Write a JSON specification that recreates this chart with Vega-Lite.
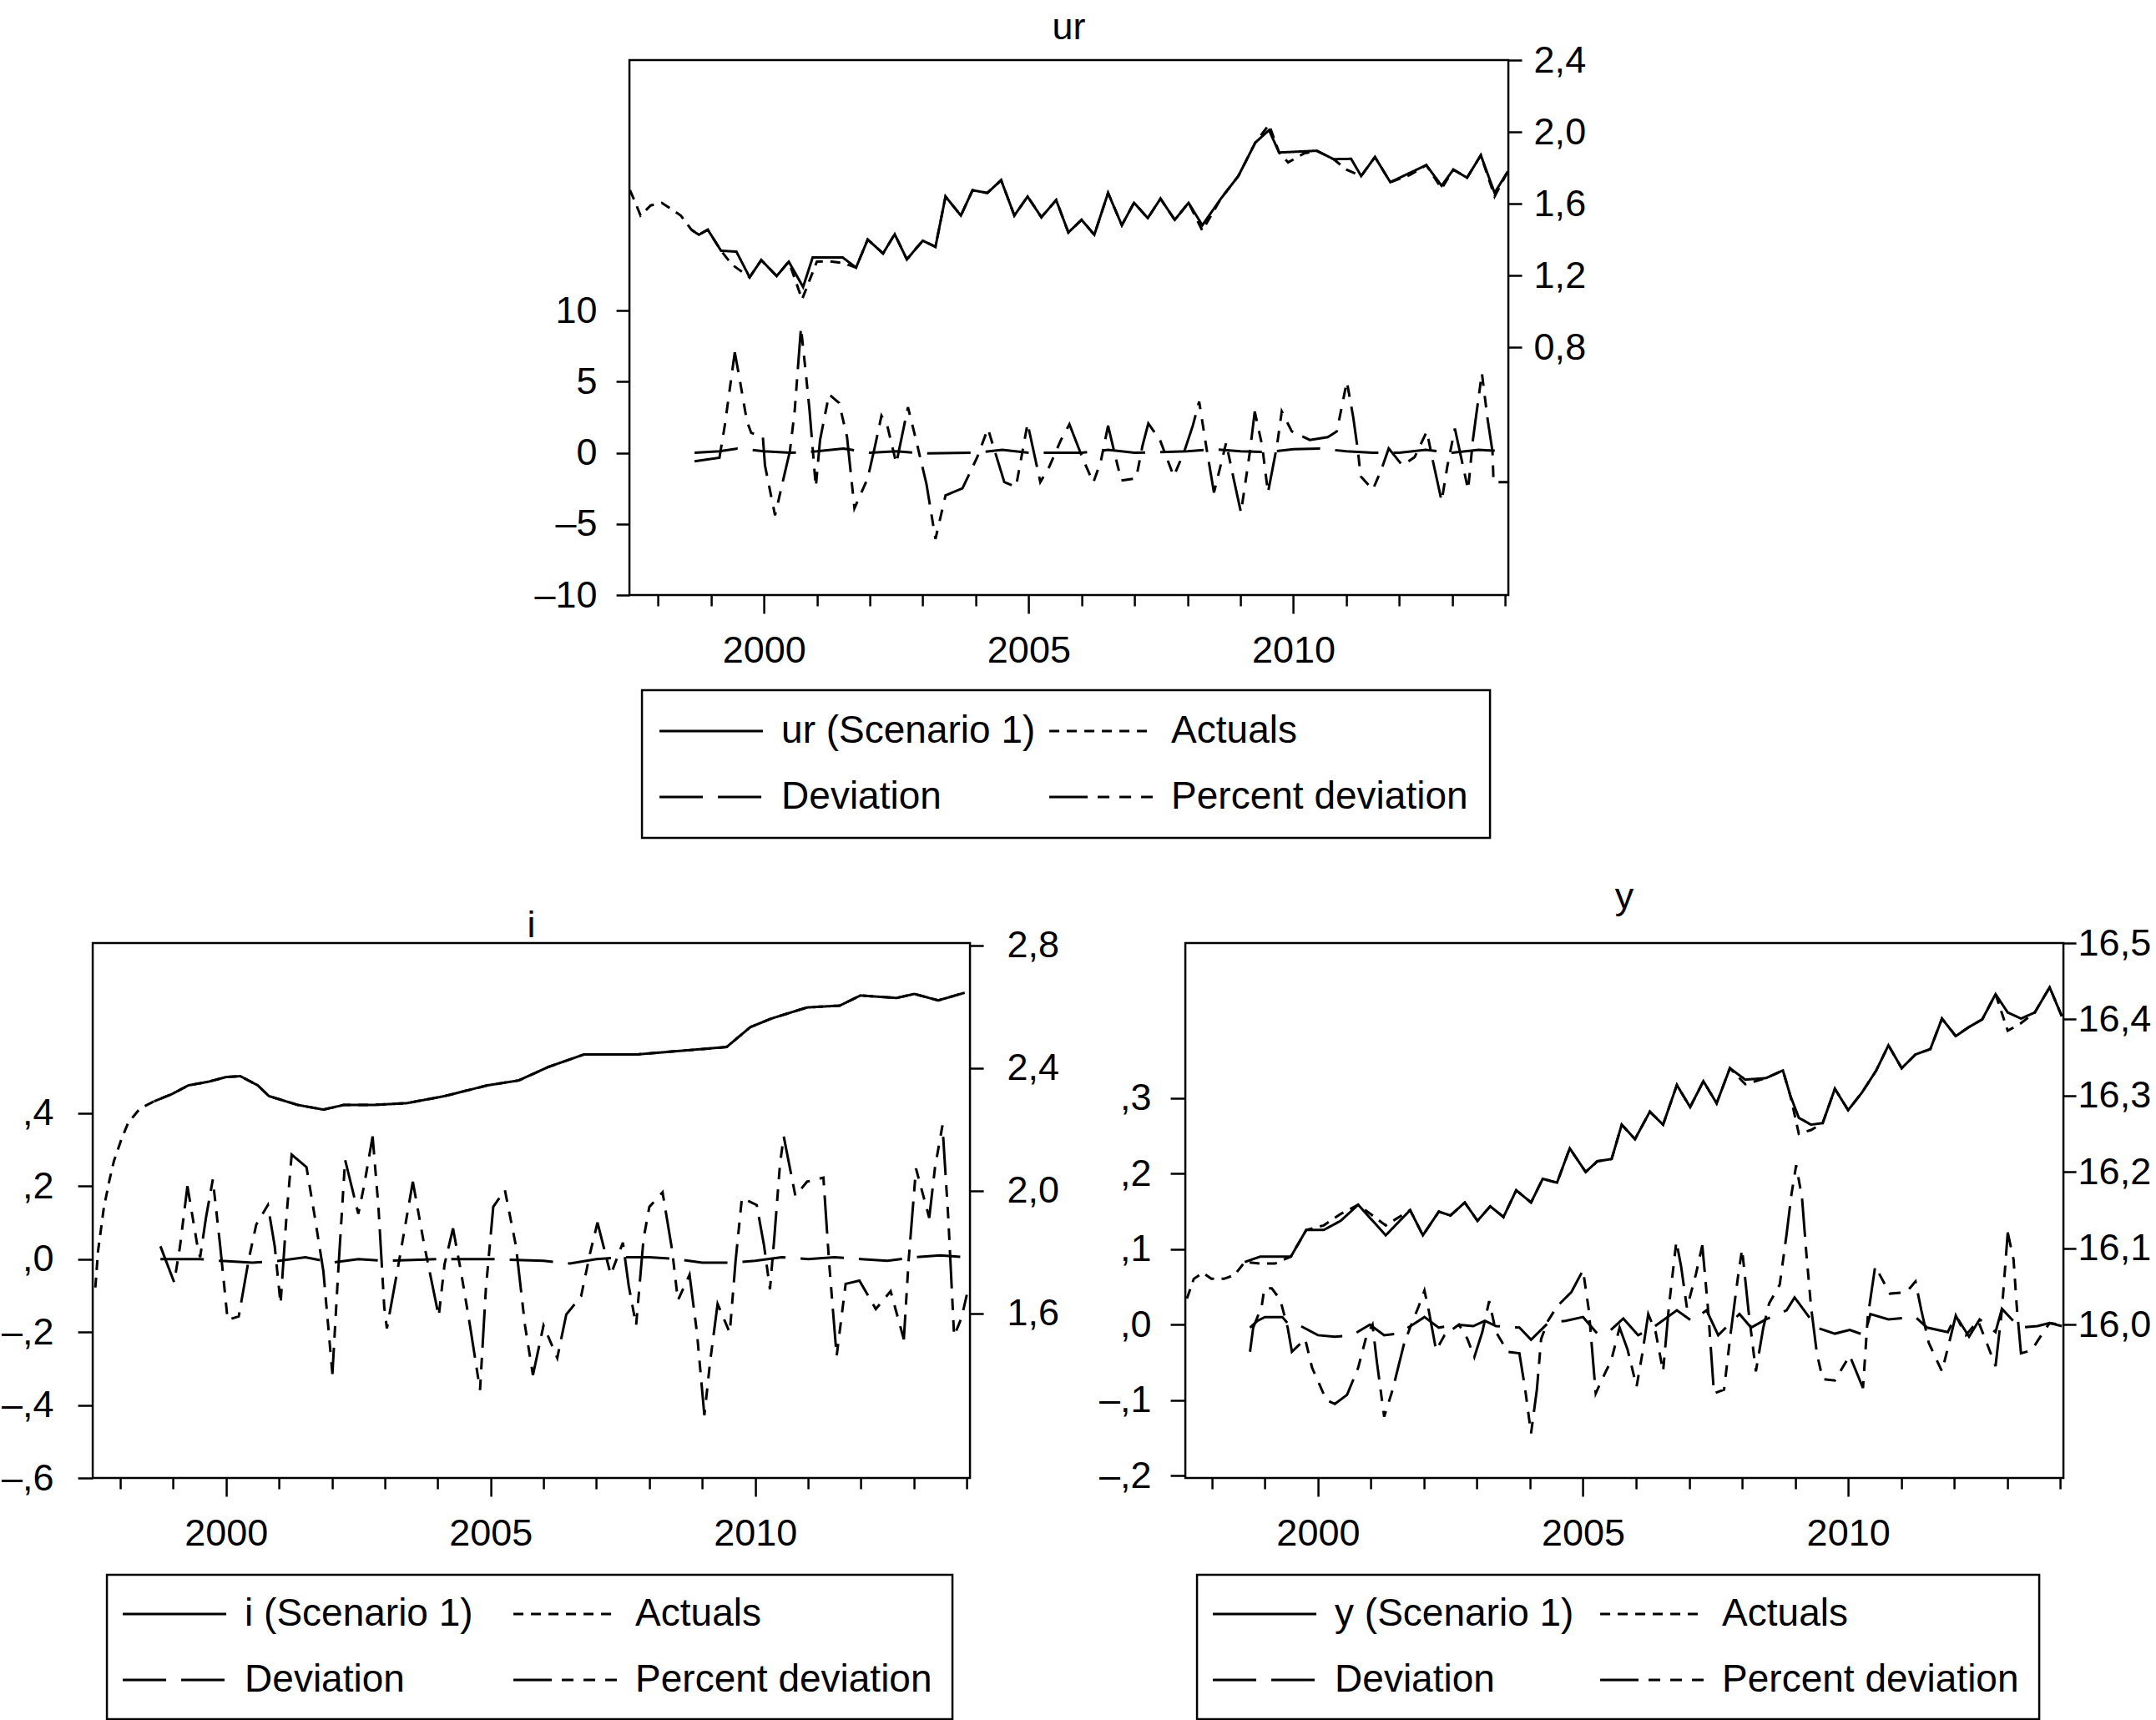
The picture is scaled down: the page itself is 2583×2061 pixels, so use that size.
{
  "$schema": "https://vega.github.io/schema/vega-lite/v6.json",
  "background": "white",
  "padding": {"left": 0, "top": 9, "right": 0, "bottom": 0},
  "config": {
    "font": "Liberation Sans",
    "view": {"stroke": "black", "strokeWidth": 2.5},
    "axis": {"domain": false, "grid": false, "tickColor": "black", "tickWidth": 2.5, "labelFontSize": 45, "labelColor": "black", "labelFont": "Liberation Sans", "labelOverlap": false, "labelFlush": false},
    "title": {"fontSize": 45, "fontWeight": "normal", "font": "Liberation Sans", "color": "black", "anchor": "middle", "frame": "group"},
    "legend": {"strokeWidth": 2.5},
    "line": {"color": "black", "strokeWidth": 3}
  },
  "datasets": {
    "ur": [
      {"t":1997.47,"s":"A","v":1.675},{"t":1997.58,"s":"A","v":1.6},{"t":1997.67,"s":"A","v":1.534},{"t":1997.86,"s":"A","v":1.59},{"t":1998.07,"s":"A","v":1.605},{"t":1998.25,"s":"A","v":1.57},{"t":1998.43,"s":"A","v":1.534},{"t":1998.63,"s":"A","v":1.455},{"t":1998.77,"s":"A","v":1.427},{"t":1998.94,"s":"A","v":1.455},{"t":1999.19,"s":"A","v":1.338},{"t":1999.4,"s":"A","v":1.26},{"t":1999.73,"s":"A","v":1.19},{"t":1999.95,"s":"A","v":1.286},{"t":2000.24,"s":"A","v":1.197},{"t":2000.47,"s":"A","v":1.277},{"t":2000.72,"s":"A","v":1.067},{"t":2001.0,"s":"A","v":1.277},{"t":2001.2,"s":"A","v":1.28},{"t":2001.49,"s":"A","v":1.27},{"t":2001.74,"s":"A","v":1.244},{"t":2001.96,"s":"A","v":1.4},{"t":2002.25,"s":"A","v":1.323},{"t":2002.47,"s":"A","v":1.43},{"t":2002.7,"s":"A","v":1.29},{"t":2003.0,"s":"A","v":1.394},{"t":2003.24,"s":"A","v":1.36},{"t":2003.43,"s":"A","v":1.64},{"t":2003.72,"s":"A","v":1.534},{"t":2003.94,"s":"A","v":1.675},{"t":2004.22,"s":"A","v":1.66},{"t":2004.48,"s":"A","v":1.731},{"t":2004.73,"s":"A","v":1.534},{"t":2004.98,"s":"A","v":1.64},{"t":2005.24,"s":"A","v":1.525},{"t":2005.52,"s":"A","v":1.62},{"t":2005.75,"s":"A","v":1.44},{"t":2006.0,"s":"A","v":1.51},{"t":2006.24,"s":"A","v":1.427},{"t":2006.5,"s":"A","v":1.66},{"t":2006.76,"s":"A","v":1.48},{"t":2006.99,"s":"A","v":1.605},{"t":2007.25,"s":"A","v":1.52},{"t":2007.49,"s":"A","v":1.628},{"t":2007.76,"s":"A","v":1.51},{"t":2008.02,"s":"A","v":1.605},{"t":2008.28,"s":"A","v":1.45},{"t":2008.63,"s":"A","v":1.628},{"t":2008.96,"s":"A","v":1.754},{"t":2009.28,"s":"A","v":1.94},{"t":2009.54,"s":"A","v":2.04},{"t":2009.73,"s":"A","v":1.885},{"t":2009.9,"s":"A","v":1.83},{"t":2010.2,"s":"A","v":1.88},{"t":2010.44,"s":"A","v":1.895},{"t":2010.76,"s":"A","v":1.848},{"t":2011.0,"s":"A","v":1.79},{"t":2011.28,"s":"A","v":1.754},{"t":2011.54,"s":"A","v":1.86},{"t":2011.83,"s":"A","v":1.72},{"t":2012.2,"s":"A","v":1.76},{"t":2012.51,"s":"A","v":1.815},{"t":2012.8,"s":"A","v":1.684},{"t":2013.02,"s":"A","v":1.79},{"t":2013.28,"s":"A","v":1.745},{"t":2013.54,"s":"A","v":1.87},{"t":2013.8,"s":"A","v":1.64},{"t":2014.05,"s":"A","v":1.78},
      {"t":1998.63,"s":"S","v":1.455},{"t":1998.77,"s":"S","v":1.427},{"t":1998.94,"s":"S","v":1.455},{"t":1999.19,"s":"S","v":1.338},{"t":1999.48,"s":"S","v":1.333},{"t":1999.73,"s":"S","v":1.19},{"t":1999.95,"s":"S","v":1.286},{"t":2000.24,"s":"S","v":1.197},{"t":2000.47,"s":"S","v":1.277},{"t":2000.74,"s":"S","v":1.136},{"t":2000.92,"s":"S","v":1.3},{"t":2001.49,"s":"S","v":1.3},{"t":2001.74,"s":"S","v":1.244},{"t":2001.96,"s":"S","v":1.4},{"t":2002.25,"s":"S","v":1.323},{"t":2002.47,"s":"S","v":1.43},{"t":2002.7,"s":"S","v":1.29},{"t":2003.0,"s":"S","v":1.394},{"t":2003.24,"s":"S","v":1.36},{"t":2003.43,"s":"S","v":1.64},{"t":2003.72,"s":"S","v":1.534},{"t":2003.94,"s":"S","v":1.675},{"t":2004.22,"s":"S","v":1.66},{"t":2004.48,"s":"S","v":1.731},{"t":2004.73,"s":"S","v":1.534},{"t":2004.98,"s":"S","v":1.64},{"t":2005.24,"s":"S","v":1.525},{"t":2005.52,"s":"S","v":1.62},{"t":2005.75,"s":"S","v":1.44},{"t":2006.0,"s":"S","v":1.51},{"t":2006.24,"s":"S","v":1.427},{"t":2006.5,"s":"S","v":1.66},{"t":2006.76,"s":"S","v":1.48},{"t":2006.99,"s":"S","v":1.605},{"t":2007.25,"s":"S","v":1.52},{"t":2007.49,"s":"S","v":1.628},{"t":2007.76,"s":"S","v":1.51},{"t":2008.02,"s":"S","v":1.605},{"t":2008.28,"s":"S","v":1.48},{"t":2008.63,"s":"S","v":1.628},{"t":2008.96,"s":"S","v":1.754},{"t":2009.28,"s":"S","v":1.94},{"t":2009.54,"s":"S","v":2.01},{"t":2009.73,"s":"S","v":1.885},{"t":2010.44,"s":"S","v":1.895},{"t":2010.76,"s":"S","v":1.848},{"t":2011.09,"s":"S","v":1.85},{"t":2011.28,"s":"S","v":1.754},{"t":2011.54,"s":"S","v":1.86},{"t":2011.83,"s":"S","v":1.72},{"t":2012.51,"s":"S","v":1.815},{"t":2012.8,"s":"S","v":1.7},{"t":2013.02,"s":"S","v":1.79},{"t":2013.28,"s":"S","v":1.745},{"t":2013.54,"s":"S","v":1.87},{"t":2013.8,"s":"S","v":1.66},{"t":2014.05,"s":"S","v":1.78},
      {"t":1998.69,"s":"D","v":0},{"t":1999.16,"s":"D","v":0.1},{"t":1999.5,"s":"D","v":0.3},{"t":2000.0,"s":"D","v":0.1},{"t":2000.5,"s":"D","v":0},{"t":2001.0,"s":"D","v":0.1},{"t":2001.5,"s":"D","v":0.3},{"t":2002.0,"s":"D","v":0},{"t":2002.5,"s":"D","v":0.1},{"t":2003.0,"s":"D","v":-0.05},{"t":2004.0,"s":"D","v":0},{"t":2004.5,"s":"D","v":0.2},{"t":2005.0,"s":"D","v":0},{"t":2006.0,"s":"D","v":0},{"t":2006.5,"s":"D","v":0.2},{"t":2007.0,"s":"D","v":0},{"t":2008.0,"s":"D","v":0.1},{"t":2008.5,"s":"D","v":0.25},{"t":2009.0,"s":"D","v":0.1},{"t":2009.5,"s":"D","v":0.05},{"t":2010.0,"s":"D","v":0.25},{"t":2010.5,"s":"D","v":0.3},{"t":2011.0,"s":"D","v":0.1},{"t":2011.5,"s":"D","v":0},{"t":2012.0,"s":"D","v":0},{"t":2012.5,"s":"D","v":0.2},{"t":2013.0,"s":"D","v":0},{"t":2013.5,"s":"D","v":0.2},{"t":2014.05,"s":"D","v":0.1},
      {"t":1998.69,"s":"P","v":-0.6},{"t":1999.16,"s":"P","v":-0.35},{"t":1999.26,"s":"P","v":1.9},{"t":1999.45,"s":"P","v":7.06},{"t":1999.54,"s":"P","v":5.2},{"t":1999.68,"s":"P","v":2.2},{"t":1999.76,"s":"P","v":1.4},{"t":1999.98,"s":"P","v":1.1},{"t":2000.02,"s":"P","v":-0.9},{"t":2000.21,"s":"P","v":-4.4},{"t":2000.38,"s":"P","v":-1.65},{"t":2000.49,"s":"P","v":0.1},{"t":2000.58,"s":"P","v":2.9},{"t":2000.7,"s":"P","v":8.8},{"t":2000.78,"s":"P","v":6.0},{"t":2000.86,"s":"P","v":3.05},{"t":2000.98,"s":"P","v":-2.4},{"t":2001.06,"s":"P","v":0.9},{"t":2001.23,"s":"P","v":4.1},{"t":2001.42,"s":"P","v":3.5},{"t":2001.57,"s":"P","v":1.1},{"t":2001.71,"s":"P","v":-3.9},{"t":2001.96,"s":"P","v":-1.8},{"t":2002.1,"s":"P","v":0.5},{"t":2002.22,"s":"P","v":2.6},{"t":2002.33,"s":"P","v":1.9},{"t":2002.5,"s":"P","v":-0.75},{"t":2002.72,"s":"P","v":3.2},{"t":2002.86,"s":"P","v":1.1},{"t":2003.07,"s":"P","v":-2.2},{"t":2003.24,"s":"P","v":-6.06},{"t":2003.43,"s":"P","v":-3.0},{"t":2003.75,"s":"P","v":-2.5},{"t":2004.03,"s":"P","v":-0.3},{"t":2004.23,"s":"P","v":1.7},{"t":2004.37,"s":"P","v":0},{"t":2004.54,"s":"P","v":-2.06},{"t":2004.76,"s":"P","v":-2.4},{"t":2004.98,"s":"P","v":2.06},{"t":2005.22,"s":"P","v":-2.06},{"t":2005.38,"s":"P","v":-1.06},{"t":2005.61,"s":"P","v":0.9},{"t":2005.77,"s":"P","v":2.0},{"t":2006.01,"s":"P","v":-0.3},{"t":2006.22,"s":"P","v":-2.1},{"t":2006.36,"s":"P","v":-0.65},{"t":2006.5,"s":"P","v":1.9},{"t":2006.64,"s":"P","v":-0.3},{"t":2006.75,"s":"P","v":-1.95},{"t":2007.03,"s":"P","v":-1.8},{"t":2007.15,"s":"P","v":0.5},{"t":2007.26,"s":"P","v":2.06},{"t":2007.48,"s":"P","v":0.9},{"t":2007.74,"s":"P","v":-1.65},{"t":2007.94,"s":"P","v":0.1},{"t":2008.1,"s":"P","v":1.9},{"t":2008.22,"s":"P","v":3.6},{"t":2008.36,"s":"P","v":0.3},{"t":2008.5,"s":"P","v":-2.8},{"t":2008.73,"s":"P","v":0.7},{"t":2008.87,"s":"P","v":-1.8},{"t":2009.01,"s":"P","v":-4.2},{"t":2009.18,"s":"P","v":0.1},{"t":2009.27,"s":"P","v":2.9},{"t":2009.41,"s":"P","v":0.5},{"t":2009.52,"s":"P","v":-2.8},{"t":2009.69,"s":"P","v":0.5},{"t":2009.78,"s":"P","v":2.9},{"t":2009.97,"s":"P","v":1.5},{"t":2010.31,"s":"P","v":0.9},{"t":2010.65,"s":"P","v":1.1},{"t":2010.82,"s":"P","v":1.5},{"t":2011.01,"s":"P","v":5.0},{"t":2011.13,"s":"P","v":2.5},{"t":2011.22,"s":"P","v":0.1},{"t":2011.27,"s":"P","v":-1.65},{"t":2011.5,"s":"P","v":-2.6},{"t":2011.66,"s":"P","v":-1.2},{"t":2011.8,"s":"P","v":0.3},{"t":2012.06,"s":"P","v":-0.9},{"t":2012.29,"s":"P","v":-0.3},{"t":2012.52,"s":"P","v":1.5},{"t":2012.63,"s":"P","v":-0.5},{"t":2012.8,"s":"P","v":-3.4},{"t":2012.91,"s":"P","v":-0.9},{"t":2013.05,"s":"P","v":1.7},{"t":2013.3,"s":"P","v":-2.6},{"t":2013.39,"s":"P","v":0.9},{"t":2013.56,"s":"P","v":5.6},{"t":2013.67,"s":"P","v":2.3},{"t":2013.76,"s":"P","v":0.1},{"t":2013.78,"s":"P","v":-2.06},{"t":2014.06,"s":"P","v":-2.06}
    ],
    "i": [
      {"t":1997.53,"s":"A","v":1.685},{"t":1997.58,"s":"A","v":1.803},{"t":1997.69,"s":"A","v":1.945},{"t":1997.8,"s":"A","v":2.038},{"t":1997.88,"s":"A","v":2.097},{"t":1998.02,"s":"A","v":2.167},{"t":1998.15,"s":"A","v":2.222},{"t":1998.37,"s":"A","v":2.268},{"t":1998.64,"s":"A","v":2.292},{"t":1998.97,"s":"A","v":2.315},{"t":1999.29,"s":"A","v":2.344},{"t":1999.67,"s":"A","v":2.356},{"t":2000.0,"s":"A","v":2.371},{"t":2000.27,"s":"A","v":2.374},{"t":2000.6,"s":"A","v":2.344},{"t":2000.81,"s":"A","v":2.309},{"t":2001.36,"s":"A","v":2.28},{"t":2001.84,"s":"A","v":2.265},{"t":2002.22,"s":"A","v":2.28},{"t":2002.77,"s":"A","v":2.28},{"t":2003.42,"s":"A","v":2.286},{"t":2004.13,"s":"A","v":2.309},{"t":2004.94,"s":"A","v":2.344},{"t":2005.53,"s":"A","v":2.36},{"t":2006.09,"s":"A","v":2.404},{"t":2006.77,"s":"A","v":2.445},{"t":2007.78,"s":"A","v":2.445},{"t":2008.62,"s":"A","v":2.457},{"t":2009.46,"s":"A","v":2.469},{"t":2009.91,"s":"A","v":2.534},{"t":2010.31,"s":"A","v":2.562},{"t":2010.98,"s":"A","v":2.598},{"t":2011.6,"s":"A","v":2.604},{"t":2011.99,"s":"A","v":2.637},{"t":2012.67,"s":"A","v":2.629},{"t":2013.01,"s":"A","v":2.642},{"t":2013.46,"s":"A","v":2.621},{"t":2013.96,"s":"A","v":2.646},
      {"t":1998.64,"s":"S","v":2.292},{"t":1998.97,"s":"S","v":2.315},{"t":1999.29,"s":"S","v":2.344},{"t":1999.67,"s":"S","v":2.356},{"t":2000.0,"s":"S","v":2.371},{"t":2000.27,"s":"S","v":2.374},{"t":2000.6,"s":"S","v":2.344},{"t":2000.81,"s":"S","v":2.309},{"t":2001.36,"s":"S","v":2.28},{"t":2001.84,"s":"S","v":2.265},{"t":2002.22,"s":"S","v":2.28},{"t":2002.77,"s":"S","v":2.28},{"t":2003.42,"s":"S","v":2.286},{"t":2004.13,"s":"S","v":2.309},{"t":2004.94,"s":"S","v":2.344},{"t":2005.53,"s":"S","v":2.36},{"t":2006.09,"s":"S","v":2.404},{"t":2006.77,"s":"S","v":2.445},{"t":2007.78,"s":"S","v":2.445},{"t":2008.62,"s":"S","v":2.457},{"t":2009.46,"s":"S","v":2.469},{"t":2009.91,"s":"S","v":2.534},{"t":2010.31,"s":"S","v":2.562},{"t":2010.98,"s":"S","v":2.598},{"t":2011.6,"s":"S","v":2.604},{"t":2011.99,"s":"S","v":2.637},{"t":2012.67,"s":"S","v":2.629},{"t":2013.01,"s":"S","v":2.642},{"t":2013.46,"s":"S","v":2.621},{"t":2013.96,"s":"S","v":2.646},
      {"t":1998.76,"s":"D","v":0},{"t":1999.5,"s":"D","v":0},{"t":1999.9,"s":"D","v":-0.005},{"t":2000.5,"s":"D","v":-0.01},{"t":2001.0,"s":"D","v":-0.005},{"t":2001.5,"s":"D","v":0.005},{"t":2002.0,"s":"D","v":-0.01},{"t":2002.5,"s":"D","v":0},{"t":2003.0,"s":"D","v":-0.005},{"t":2004.0,"s":"D","v":0},{"t":2005.0,"s":"D","v":0},{"t":2006.0,"s":"D","v":-0.005},{"t":2006.5,"s":"D","v":-0.012},{"t":2007.0,"s":"D","v":0},{"t":2007.5,"s":"D","v":0.005},{"t":2008.0,"s":"D","v":0.005},{"t":2008.5,"s":"D","v":0},{"t":2009.0,"s":"D","v":-0.01},{"t":2009.5,"s":"D","v":-0.01},{"t":2010.0,"s":"D","v":-0.005},{"t":2010.5,"s":"D","v":0.005},{"t":2011.0,"s":"D","v":0},{"t":2011.5,"s":"D","v":0.005},{"t":2012.0,"s":"D","v":0},{"t":2012.5,"s":"D","v":-0.005},{"t":2013.0,"s":"D","v":0.005},{"t":2013.5,"s":"D","v":0.01},{"t":2014.0,"s":"D","v":0.005},
      {"t":1998.76,"s":"P","v":0.035},{"t":1999.02,"s":"P","v":-0.064},{"t":1999.13,"s":"P","v":0.035},{"t":1999.27,"s":"P","v":0.2},{"t":1999.46,"s":"P","v":0.035},{"t":1999.51,"s":"P","v":0.005},{"t":1999.62,"s":"P","v":0.113},{"t":1999.75,"s":"P","v":0.218},{"t":1999.89,"s":"P","v":0.035},{"t":2000.03,"s":"P","v":-0.167},{"t":2000.24,"s":"P","v":-0.157},{"t":2000.43,"s":"P","v":0},{"t":2000.57,"s":"P","v":0.094},{"t":2000.79,"s":"P","v":0.148},{"t":2000.92,"s":"P","v":0.035},{"t":2001.03,"s":"P","v":-0.123},{"t":2001.14,"s":"P","v":0.113},{"t":2001.24,"s":"P","v":0.286},{"t":2001.52,"s":"P","v":0.252},{"t":2001.68,"s":"P","v":0.113},{"t":2001.84,"s":"P","v":-0.034},{"t":2002.01,"s":"P","v":-0.315},{"t":2002.12,"s":"P","v":-0.034},{"t":2002.25,"s":"P","v":0.272},{"t":2002.5,"s":"P","v":0.124},{"t":2002.61,"s":"P","v":0.202},{"t":2002.77,"s":"P","v":0.336},{"t":2002.88,"s":"P","v":0.143},{"t":2002.99,"s":"P","v":-0.132},{"t":2003.04,"s":"P","v":-0.19},{"t":2003.26,"s":"P","v":-0.014},{"t":2003.53,"s":"P","v":0.212},{"t":2003.75,"s":"P","v":0.035},{"t":2004.02,"s":"P","v":-0.157},{"t":2004.13,"s":"P","v":-0.014},{"t":2004.29,"s":"P","v":0.084},{"t":2004.45,"s":"P","v":-0.043},{"t":2004.61,"s":"P","v":-0.182},{"t":2004.8,"s":"P","v":-0.359},{"t":2004.91,"s":"P","v":-0.083},{"t":2005.05,"s":"P","v":0.143},{"t":2005.27,"s":"P","v":0.189},{"t":2005.48,"s":"P","v":0.035},{"t":2005.65,"s":"P","v":-0.182},{"t":2005.8,"s":"P","v":-0.318},{"t":2006.0,"s":"P","v":-0.182},{"t":2006.26,"s":"P","v":-0.271},{"t":2006.43,"s":"P","v":-0.152},{"t":2006.71,"s":"P","v":-0.102},{"t":2006.88,"s":"P","v":0.016},{"t":2007.02,"s":"P","v":0.1},{"t":2007.27,"s":"P","v":-0.043},{"t":2007.5,"s":"P","v":0.045},{"t":2007.61,"s":"P","v":-0.073},{"t":2007.75,"s":"P","v":-0.182},{"t":2007.89,"s":"P","v":0.055},{"t":2008.0,"s":"P","v":0.143},{"t":2008.25,"s":"P","v":0.183},{"t":2008.43,"s":"P","v":0.025},{"t":2008.54,"s":"P","v":-0.113},{"t":2008.76,"s":"P","v":-0.043},{"t":2008.9,"s":"P","v":-0.202},{"t":2009.04,"s":"P","v":-0.428},{"t":2009.15,"s":"P","v":-0.28},{"t":2009.29,"s":"P","v":-0.123},{"t":2009.52,"s":"P","v":-0.202},{"t":2009.63,"s":"P","v":-0.005},{"t":2009.75,"s":"P","v":0.168},{"t":2010.03,"s":"P","v":0.148},{"t":2010.17,"s":"P","v":0.035},{"t":2010.28,"s":"P","v":-0.083},{"t":2010.36,"s":"P","v":0.055},{"t":2010.47,"s":"P","v":0.261},{"t":2010.54,"s":"P","v":0.336},{"t":2010.76,"s":"P","v":0.173},{"t":2010.98,"s":"P","v":0.212},{"t":2011.29,"s":"P","v":0.223},{"t":2011.4,"s":"P","v":-0.014},{"t":2011.54,"s":"P","v":-0.266},{"t":2011.71,"s":"P","v":-0.068},{"t":2011.97,"s":"P","v":-0.059},{"t":2012.28,"s":"P","v":-0.137},{"t":2012.56,"s":"P","v":-0.088},{"t":2012.81,"s":"P","v":-0.22},{"t":2012.9,"s":"P","v":-0.005},{"t":2013.04,"s":"P","v":0.248},{"t":2013.29,"s":"P","v":0.113},{"t":2013.4,"s":"P","v":0.252},{"t":2013.54,"s":"P","v":0.366},{"t":2013.65,"s":"P","v":0.113},{"t":2013.76,"s":"P","v":-0.211},{"t":2013.9,"s":"P","v":-0.161},{"t":2014.0,"s":"P","v":-0.098}
    ],
    "y": [
      {"t":1997.53,"s":"A","v":16.034},{"t":1997.66,"s":"A","v":16.06},{"t":1997.83,"s":"A","v":16.068},{"t":1997.99,"s":"A","v":16.06},{"t":1998.23,"s":"A","v":16.06},{"t":1998.43,"s":"A","v":16.065},{"t":1998.62,"s":"A","v":16.082},{"t":1998.91,"s":"A","v":16.08},{"t":1999.19,"s":"A","v":16.08},{"t":1999.49,"s":"A","v":16.089},{"t":1999.78,"s":"A","v":16.124},{"t":2000.11,"s":"A","v":16.13},{"t":2000.43,"s":"A","v":16.145},{"t":2000.76,"s":"A","v":16.157},{"t":2001.28,"s":"A","v":16.13},{"t":2001.74,"s":"A","v":16.15},{"t":2001.98,"s":"A","v":16.117},{"t":2002.28,"s":"A","v":16.148},{"t":2002.5,"s":"A","v":16.143},{"t":2002.77,"s":"A","v":16.16},{"t":2003.01,"s":"A","v":16.136},{"t":2003.25,"s":"A","v":16.155},{"t":2003.5,"s":"A","v":16.141},{"t":2003.74,"s":"A","v":16.176},{"t":2004.02,"s":"A","v":16.16},{"t":2004.24,"s":"A","v":16.191},{"t":2004.51,"s":"A","v":16.186},{"t":2004.75,"s":"A","v":16.231},{"t":2005.05,"s":"A","v":16.2},{"t":2005.27,"s":"A","v":16.214},{"t":2005.54,"s":"A","v":16.217},{"t":2005.73,"s":"A","v":16.262},{"t":2005.98,"s":"A","v":16.243},{"t":2006.26,"s":"A","v":16.279},{"t":2006.51,"s":"A","v":16.262},{"t":2006.77,"s":"A","v":16.314},{"t":2007.02,"s":"A","v":16.285},{"t":2007.27,"s":"A","v":16.319},{"t":2007.52,"s":"A","v":16.29},{"t":2007.77,"s":"A","v":16.336},{"t":2008.06,"s":"A","v":16.315},{"t":2008.45,"s":"A","v":16.323},{"t":2008.77,"s":"A","v":16.333},{"t":2008.91,"s":"A","v":16.3},{"t":2009.07,"s":"A","v":16.25},{"t":2009.3,"s":"A","v":16.255},{"t":2009.52,"s":"A","v":16.264},{"t":2009.75,"s":"A","v":16.309},{"t":2010.0,"s":"A","v":16.281},{"t":2010.26,"s":"A","v":16.304},{"t":2010.53,"s":"A","v":16.333},{"t":2010.76,"s":"A","v":16.366},{"t":2011.01,"s":"A","v":16.336},{"t":2011.27,"s":"A","v":16.354},{"t":2011.55,"s":"A","v":16.361},{"t":2011.77,"s":"A","v":16.401},{"t":2012.03,"s":"A","v":16.378},{"t":2012.28,"s":"A","v":16.39},{"t":2012.53,"s":"A","v":16.4},{"t":2012.78,"s":"A","v":16.433},{"t":2013.01,"s":"A","v":16.385},{"t":2013.26,"s":"A","v":16.395},{"t":2013.52,"s":"A","v":16.409},{"t":2013.8,"s":"A","v":16.442},{"t":2014.03,"s":"A","v":16.404},
      {"t":1998.62,"s":"S","v":16.082},{"t":1998.91,"s":"S","v":16.089},{"t":1999.19,"s":"S","v":16.089},{"t":1999.49,"s":"S","v":16.089},{"t":1999.78,"s":"S","v":16.124},{"t":2000.11,"s":"S","v":16.124},{"t":2000.43,"s":"S","v":16.136},{"t":2000.76,"s":"S","v":16.157},{"t":2001.28,"s":"S","v":16.117},{"t":2001.74,"s":"S","v":16.15},{"t":2001.98,"s":"S","v":16.117},{"t":2002.28,"s":"S","v":16.148},{"t":2002.5,"s":"S","v":16.143},{"t":2002.77,"s":"S","v":16.16},{"t":2003.01,"s":"S","v":16.136},{"t":2003.25,"s":"S","v":16.155},{"t":2003.5,"s":"S","v":16.141},{"t":2003.74,"s":"S","v":16.176},{"t":2004.02,"s":"S","v":16.16},{"t":2004.24,"s":"S","v":16.191},{"t":2004.51,"s":"S","v":16.186},{"t":2004.75,"s":"S","v":16.231},{"t":2005.05,"s":"S","v":16.2},{"t":2005.27,"s":"S","v":16.214},{"t":2005.54,"s":"S","v":16.217},{"t":2005.73,"s":"S","v":16.262},{"t":2005.98,"s":"S","v":16.243},{"t":2006.26,"s":"S","v":16.279},{"t":2006.51,"s":"S","v":16.262},{"t":2006.77,"s":"S","v":16.314},{"t":2007.02,"s":"S","v":16.285},{"t":2007.27,"s":"S","v":16.319},{"t":2007.52,"s":"S","v":16.29},{"t":2007.77,"s":"S","v":16.336},{"t":2008.06,"s":"S","v":16.321},{"t":2008.45,"s":"S","v":16.323},{"t":2008.77,"s":"S","v":16.333},{"t":2008.91,"s":"S","v":16.3},{"t":2009.07,"s":"S","v":16.271},{"t":2009.3,"s":"S","v":16.262},{"t":2009.52,"s":"S","v":16.264},{"t":2009.75,"s":"S","v":16.309},{"t":2010.0,"s":"S","v":16.281},{"t":2010.26,"s":"S","v":16.304},{"t":2010.53,"s":"S","v":16.333},{"t":2010.76,"s":"S","v":16.366},{"t":2011.01,"s":"S","v":16.336},{"t":2011.27,"s":"S","v":16.354},{"t":2011.55,"s":"S","v":16.361},{"t":2011.77,"s":"S","v":16.401},{"t":2012.03,"s":"S","v":16.378},{"t":2012.28,"s":"S","v":16.39},{"t":2012.53,"s":"S","v":16.4},{"t":2012.78,"s":"S","v":16.433},{"t":2013.01,"s":"S","v":16.409},{"t":2013.26,"s":"S","v":16.401},{"t":2013.52,"s":"S","v":16.409},{"t":2013.8,"s":"S","v":16.442},{"t":2014.03,"s":"S","v":16.404},
      {"t":1998.72,"s":"D","v":-0.004},{"t":1998.86,"s":"D","v":0.005},{"t":1999.0,"s":"D","v":0.01},{"t":1999.33,"s":"D","v":0.01},{"t":1999.45,"s":"D","v":0},{"t":1999.68,"s":"D","v":-0.002},{"t":2000.0,"s":"D","v":-0.014},{"t":2000.32,"s":"D","v":-0.016},{"t":2000.65,"s":"D","v":-0.014},{"t":2000.98,"s":"D","v":0},{"t":2001.25,"s":"D","v":-0.014},{"t":2001.52,"s":"D","v":-0.012},{"t":2001.79,"s":"D","v":0},{"t":2002.01,"s":"D","v":0.01},{"t":2002.28,"s":"D","v":-0.004},{"t":2002.61,"s":"D","v":0},{"t":2002.93,"s":"D","v":-0.002},{"t":2003.15,"s":"D","v":0.005},{"t":2003.36,"s":"D","v":-0.002},{"t":2003.8,"s":"D","v":-0.004},{"t":2004.02,"s":"D","v":-0.02},{"t":2004.34,"s":"D","v":0.002},{"t":2004.67,"s":"D","v":0.005},{"t":2005.0,"s":"D","v":0.01},{"t":2005.27,"s":"D","v":-0.012},{"t":2005.48,"s":"D","v":-0.01},{"t":2005.76,"s":"D","v":0.008},{"t":2006.04,"s":"D","v":-0.014},{"t":2006.32,"s":"D","v":-0.004},{"t":2006.77,"s":"D","v":0.019},{"t":2007.05,"s":"D","v":0.005},{"t":2007.33,"s":"D","v":0.019},{"t":2007.55,"s":"D","v":-0.014},{"t":2007.95,"s":"D","v":0.014},{"t":2008.17,"s":"D","v":-0.004},{"t":2008.45,"s":"D","v":0.007},{"t":2008.84,"s":"D","v":0.019},{"t":2008.99,"s":"D","v":0.036},{"t":2009.41,"s":"D","v":-0.004},{"t":2009.75,"s":"D","v":-0.012},{"t":2010.03,"s":"D","v":-0.007},{"t":2010.31,"s":"D","v":-0.014},{"t":2010.42,"s":"D","v":0.014},{"t":2010.76,"s":"D","v":0.007},{"t":2011.27,"s":"D","v":0.01},{"t":2011.49,"s":"D","v":-0.004},{"t":2011.88,"s":"D","v":-0.01},{"t":2012.03,"s":"D","v":0.012},{"t":2012.28,"s":"D","v":-0.016},{"t":2012.48,"s":"D","v":0.007},{"t":2012.78,"s":"D","v":-0.01},{"t":2012.9,"s":"D","v":0.021},{"t":2013.23,"s":"D","v":-0.004},{"t":2013.57,"s":"D","v":-0.002},{"t":2013.8,"s":"D","v":0.002},{"t":2014.03,"s":"D","v":-0.002},
      {"t":1998.72,"s":"P","v":-0.036},{"t":1998.78,"s":"P","v":-0.004},{"t":1998.94,"s":"P","v":0.024},{"t":1998.99,"s":"P","v":0.048},{"t":1999.13,"s":"P","v":0.048},{"t":1999.29,"s":"P","v":0.033},{"t":1999.43,"s":"P","v":-0.004},{"t":1999.51,"s":"P","v":-0.036},{"t":1999.76,"s":"P","v":-0.019},{"t":1999.89,"s":"P","v":-0.057},{"t":2000.16,"s":"P","v":-0.1},{"t":2000.32,"s":"P","v":-0.105},{"t":2000.55,"s":"P","v":-0.093},{"t":2000.76,"s":"P","v":-0.057},{"t":2000.92,"s":"P","v":-0.014},{"t":2001.03,"s":"P","v":0},{"t":2001.11,"s":"P","v":-0.048},{"t":2001.25,"s":"P","v":-0.122},{"t":2001.41,"s":"P","v":-0.086},{"t":2001.63,"s":"P","v":-0.024},{"t":2001.74,"s":"P","v":-0.004},{"t":2001.9,"s":"P","v":0.024},{"t":2002.01,"s":"P","v":0.045},{"t":2002.09,"s":"P","v":0.019},{"t":2002.23,"s":"P","v":-0.034},{"t":2002.39,"s":"P","v":-0.014},{"t":2002.66,"s":"P","v":0},{"t":2002.82,"s":"P","v":-0.019},{"t":2002.95,"s":"P","v":-0.043},{"t":2003.1,"s":"P","v":-0.01},{"t":2003.23,"s":"P","v":0.031},{"t":2003.36,"s":"P","v":-0.01},{"t":2003.58,"s":"P","v":-0.036},{"t":2003.8,"s":"P","v":-0.038},{"t":2003.91,"s":"P","v":-0.086},{"t":2004.02,"s":"P","v":-0.144},{"t":2004.13,"s":"P","v":-0.086},{"t":2004.21,"s":"P","v":-0.019},{"t":2004.34,"s":"P","v":0.005},{"t":2004.51,"s":"P","v":0.024},{"t":2004.78,"s":"P","v":0.043},{"t":2005.0,"s":"P","v":0.072},{"t":2005.11,"s":"P","v":0.019},{"t":2005.24,"s":"P","v":-0.091},{"t":2005.43,"s":"P","v":-0.062},{"t":2005.53,"s":"P","v":-0.048},{"t":2005.69,"s":"P","v":-0.004},{"t":2005.84,"s":"P","v":-0.033},{"t":2006.01,"s":"P","v":-0.082},{"t":2006.12,"s":"P","v":-0.038},{"t":2006.23,"s":"P","v":0.014},{"t":2006.37,"s":"P","v":-0.01},{"t":2006.51,"s":"P","v":-0.062},{"t":2006.62,"s":"P","v":0.024},{"t":2006.76,"s":"P","v":0.11},{"t":2006.85,"s":"P","v":0.077},{"t":2006.96,"s":"P","v":0.022},{"t":2007.13,"s":"P","v":0.067},{"t":2007.25,"s":"P","v":0.105},{"t":2007.36,"s":"P","v":0.019},{"t":2007.47,"s":"P","v":-0.091},{"t":2007.66,"s":"P","v":-0.086},{"t":2007.78,"s":"P","v":-0.014},{"t":2007.92,"s":"P","v":0.062},{"t":2008.0,"s":"P","v":0.1},{"t":2008.12,"s":"P","v":0.019},{"t":2008.26,"s":"P","v":-0.062},{"t":2008.4,"s":"P","v":-0.004},{"t":2008.51,"s":"P","v":0.028},{"t":2008.71,"s":"P","v":0.053},{"t":2008.84,"s":"P","v":0.12},{"t":2008.93,"s":"P","v":0.172},{"t":2009.02,"s":"P","v":0.211},{"t":2009.13,"s":"P","v":0.168},{"t":2009.21,"s":"P","v":0.096},{"t":2009.3,"s":"P","v":0.024},{"t":2009.41,"s":"P","v":-0.038},{"t":2009.52,"s":"P","v":-0.072},{"t":2009.75,"s":"P","v":-0.074},{"t":2010.03,"s":"P","v":-0.041},{"t":2010.28,"s":"P","v":-0.084},{"t":2010.37,"s":"P","v":0.01},{"t":2010.51,"s":"P","v":0.077},{"t":2010.79,"s":"P","v":0.041},{"t":2011.1,"s":"P","v":0.043},{"t":2011.27,"s":"P","v":0.057},{"t":2011.38,"s":"P","v":0.019},{"t":2011.52,"s":"P","v":-0.024},{"t":2011.77,"s":"P","v":-0.062},{"t":2011.94,"s":"P","v":-0.014},{"t":2012.03,"s":"P","v":0.012},{"t":2012.22,"s":"P","v":-0.014},{"t":2012.45,"s":"P","v":0.005},{"t":2012.64,"s":"P","v":-0.029},{"t":2012.78,"s":"P","v":-0.055},{"t":2012.9,"s":"P","v":0.019},{"t":2013.01,"s":"P","v":0.122},{"t":2013.12,"s":"P","v":0.086},{"t":2013.18,"s":"P","v":0.024},{"t":2013.26,"s":"P","v":-0.038},{"t":2013.46,"s":"P","v":-0.034},{"t":2013.68,"s":"P","v":-0.01},{"t":2013.8,"s":"P","v":0.002},{"t":2014.03,"s":"P","v":0}
    ]
  },
  "spacing": 44,
  "center": true,
  "resolve": {"scale": {"strokeDash": "independent"}, "legend": {"strokeDash": "independent"}},
  "vconcat": [
    {
      "title": {"text": "ur", "offset": -6},
      "width": 1053,
      "height": 641,
      "data": {"name": "ur"},
      "encoding": {
        "x": {"field": "t", "type": "quantitative", "title": null,
          "scale": {"domain": [1997.46, 2014.06], "nice": false, "zero": false},
          "axis": {"values": [1998,1999,2000,2001,2002,2003,2004,2005,2006,2007,2008,2009,2010,2011,2012,2013,2014], "format": "d",
            "labelExpr": "datum.value % 5 === 0 ? datum.label : ''",
            "tickSize": {"condition": {"test": "datum.value % 5 === 0", "value": 22}, "value": 13}, "labelPadding": 22}}
      },
      "layer": [
        {
          "transform": [{"filter": "datum.s == 'D' || datum.s == 'P'"}],
          "mark": {"type": "line"},
          "encoding": {
            "y": {"field": "v", "type": "quantitative", "title": null,
              "scale": {"domain": [-10, 27.6], "nice": false, "zero": false},
              "axis": {"orient": "left", "values": [-10,-5,0,5,10], "tickSize": 16, "labelPadding": 23,
                "labelExpr": "(datum.value < 0 ? '–' : '') + format(abs(datum.value), 'd')"}},
            "strokeDash": {"field": "s", "type": "nominal",
              "scale": {"domain": ["S","A","D","P"], "range": [[1,0],[12,9],[52,18],[46,12,14,12,14,12,14,12]]},
              "legend": {"orient": "none", "legendX": 15, "legendY": 755, "direction": "horizontal", "title": null, "columns": 2, "symbolType": "M-1.4,0H4.8", "symbolSize": 1600, "symbolStrokeWidth": 3, "symbolStrokeColor": "black", "symbolFillColor": "transparent", "labelFontSize": 46, "labelFont": "Liberation Sans", "labelColor": "black", "labelOffset": 95, "labelLimit": 700, "columnPadding": 10, "rowPadding": 33, "padding": 26, "strokeColor": "black",
                "labelExpr": "datum.value == 'S' ? 'ur (Scenario 1)' : datum.value == 'A' ? 'Actuals' : datum.value == 'D' ? 'Deviation' : 'Percent deviation'"}}
          }
        },
        {
          "transform": [{"filter": "datum.s == 'S' || datum.s == 'A'"}],
          "mark": {"type": "line"},
          "encoding": {
            "y": {"field": "v", "type": "quantitative", "title": " ",
              "scale": {"domain": [-0.58, 2.4], "nice": false, "zero": false},
              "axis": {"orient": "right", "values": [0.8,1.2,1.6,2.0,2.4], "tickSize": 16, "labelPadding": 14, "titleFontSize": 20, "titlePadding": 14,
                "labelExpr": "replace(format(datum.value, '.1f'), '.', ',')"}},
            "strokeDash": {"field": "s", "type": "nominal",
              "scale": {"domain": ["S","A","D","P"], "range": [[1,0],[12,9],[52,18],[46,12,14,12,14,12,14,12]]},
              "legend": {"orient": "none", "legendX": 15, "legendY": 755, "direction": "horizontal", "title": null, "columns": 2, "symbolType": "M-1.4,0H4.8", "symbolSize": 1600, "symbolStrokeWidth": 3, "symbolStrokeColor": "black", "symbolFillColor": "transparent", "labelFontSize": 46, "labelFont": "Liberation Sans", "labelColor": "black", "labelOffset": 95, "labelLimit": 700, "columnPadding": 10, "rowPadding": 33, "padding": 26, "strokeColor": "black",
                "labelExpr": "datum.value == 'S' ? 'ur (Scenario 1)' : datum.value == 'A' ? 'Actuals' : datum.value == 'D' ? 'Deviation' : 'Percent deviation'"}}
          }
        }
      ],
      "resolve": {"scale": {"y": "independent"}}
    },
    {
      "spacing": 45,
      "resolve": {"scale": {"strokeDash": "independent"}, "legend": {"strokeDash": "independent"}},
      "hconcat": [
        {
          "title": {"text": "i", "offset": -21},
          "width": 1051,
          "height": 641,
          "data": {"name": "i"},
          "encoding": {
            "x": {"field": "t", "type": "quantitative", "title": null,
              "scale": {"domain": [1997.48, 2014.06], "nice": false, "zero": false},
              "axis": {"values": [1998,1999,2000,2001,2002,2003,2004,2005,2006,2007,2008,2009,2010,2011,2012,2013,2014], "format": "d",
                "labelExpr": "datum.value % 5 === 0 ? datum.label : ''",
                "tickSize": {"condition": {"test": "datum.value % 5 === 0", "value": 22}, "value": 13}, "labelPadding": 22}}
          },
          "layer": [
            {
              "transform": [{"filter": "datum.s == 'D' || datum.s == 'P'"}],
              "mark": {"type": "line"},
              "encoding": {
                "y": {"field": "v", "type": "quantitative", "title": null,
                  "scale": {"domain": [-0.6, 0.866], "nice": false, "zero": false},
                  "axis": {"orient": "left", "values": [-0.6,-0.4,-0.2,0,0.2,0.4], "tickSize": 18, "labelPadding": 29,
                    "labelExpr": "(datum.value < 0 ? '–' : '') + replace(format(abs(datum.value), '.1f'), '0.', ',')"}},
                "strokeDash": {"field": "s", "type": "nominal",
                  "scale": {"domain": ["S","A","D","P"], "range": [[1,0],[12,9],[52,18],[46,12,14,12,14,12,14,12]]},
                  "legend": {"orient": "none", "legendX": 17, "legendY": 757, "direction": "horizontal", "title": null, "columns": 2, "symbolType": "M-1.4,0H4.8", "symbolSize": 1600, "symbolStrokeWidth": 3, "symbolStrokeColor": "black", "symbolFillColor": "transparent", "labelFontSize": 46, "labelFont": "Liberation Sans", "labelColor": "black", "labelOffset": 95, "labelLimit": 700, "columnPadding": 42, "rowPadding": 33, "padding": 24, "strokeColor": "black",
                    "labelExpr": "datum.value == 'S' ? 'i (Scenario 1)' : datum.value == 'A' ? 'Actuals' : datum.value == 'D' ? 'Deviation' : 'Percent deviation'"}}
              }
            },
            {
              "transform": [{"filter": "datum.s == 'S' || datum.s == 'A'"}],
              "mark": {"type": "line"},
              "encoding": {
                "y": {"field": "v", "type": "quantitative", "title": null,
                  "scale": {"domain": [1.064, 2.808], "nice": false, "zero": false},
                  "axis": {"orient": "right", "values": [1.6,2.0,2.4,2.8], "tickSize": 16, "labelPadding": 28,
                    "labelExpr": "replace(format(datum.value, '.1f'), '.', ',')"}},
                "strokeDash": {"field": "s", "type": "nominal",
                  "scale": {"domain": ["S","A","D","P"], "range": [[1,0],[12,9],[52,18],[46,12,14,12,14,12,14,12]]},
                  "legend": {"orient": "none", "legendX": 17, "legendY": 757, "direction": "horizontal", "title": null, "columns": 2, "symbolType": "M-1.4,0H4.8", "symbolSize": 1600, "symbolStrokeWidth": 3, "symbolStrokeColor": "black", "symbolFillColor": "transparent", "labelFontSize": 46, "labelFont": "Liberation Sans", "labelColor": "black", "labelOffset": 95, "labelLimit": 700, "columnPadding": 42, "rowPadding": 33, "padding": 24, "strokeColor": "black",
                    "labelExpr": "datum.value == 'S' ? 'i (Scenario 1)' : datum.value == 'A' ? 'Actuals' : datum.value == 'D' ? 'Deviation' : 'Percent deviation'"}}
              }
            }
          ],
          "resolve": {"scale": {"y": "independent"}}
        },
        {
          "title": {"text": "y", "offset": 10},
          "width": 1052,
          "height": 641,
          "data": {"name": "y"},
          "encoding": {
            "x": {"field": "t", "type": "quantitative", "title": null,
              "scale": {"domain": [1997.5, 2014.06], "nice": false, "zero": false},
              "axis": {"values": [1998,1999,2000,2001,2002,2003,2004,2005,2006,2007,2008,2009,2010,2011,2012,2013,2014], "format": "d",
                "labelExpr": "datum.value % 5 === 0 ? datum.label : ''",
                "tickSize": {"condition": {"test": "datum.value % 5 === 0", "value": 22}, "value": 13}, "labelPadding": 22}}
          },
          "layer": [
            {
              "transform": [{"filter": "datum.s == 'D' || datum.s == 'P'"}],
              "mark": {"type": "line"},
              "encoding": {
                "y": {"field": "v", "type": "quantitative", "title": null,
                  "scale": {"domain": [-0.203, 0.505], "nice": false, "zero": false},
                  "axis": {"orient": "left", "values": [-0.2,-0.1,0,0.1,0.2,0.3], "tickSize": 18, "labelPadding": 23,
                    "labelExpr": "(datum.value < 0 ? '–' : '') + replace(format(abs(datum.value), '.1f'), '0.', ',')"}},
                "strokeDash": {"field": "s", "type": "nominal",
                  "scale": {"domain": ["S","A","D","P"], "range": [[1,0],[12,9],[52,18],[46,12,14,12,14,12,14,12]]},
                  "legend": {"orient": "none", "legendX": 14, "legendY": 757, "direction": "horizontal", "title": null, "columns": 2, "symbolType": "M-1.4,0H4.8", "symbolSize": 1600, "symbolStrokeWidth": 3, "symbolStrokeColor": "black", "symbolFillColor": "transparent", "labelFontSize": 46, "labelFont": "Liberation Sans", "labelColor": "black", "labelOffset": 95, "labelLimit": 700, "columnPadding": 25, "rowPadding": 33, "padding": 24, "strokeColor": "black",
                    "labelExpr": "datum.value == 'S' ? 'y (Scenario 1)' : datum.value == 'A' ? 'Actuals' : datum.value == 'D' ? 'Deviation' : 'Percent deviation'"}}
              }
            },
            {
              "transform": [{"filter": "datum.s == 'S' || datum.s == 'A'"}],
              "mark": {"type": "line"},
              "encoding": {
                "y": {"field": "v", "type": "quantitative", "title": null,
                  "scale": {"domain": [15.799, 16.5], "nice": false, "zero": false},
                  "axis": {"orient": "right", "values": [16.0,16.1,16.2,16.3,16.4,16.5], "tickSize": 15, "labelPadding": 2,
                    "labelExpr": "replace(format(datum.value, '.1f'), '.', ',')"}},
                "strokeDash": {"field": "s", "type": "nominal",
                  "scale": {"domain": ["S","A","D","P"], "range": [[1,0],[12,9],[52,18],[46,12,14,12,14,12,14,12]]},
                  "legend": {"orient": "none", "legendX": 14, "legendY": 757, "direction": "horizontal", "title": null, "columns": 2, "symbolType": "M-1.4,0H4.8", "symbolSize": 1600, "symbolStrokeWidth": 3, "symbolStrokeColor": "black", "symbolFillColor": "transparent", "labelFontSize": 46, "labelFont": "Liberation Sans", "labelColor": "black", "labelOffset": 95, "labelLimit": 700, "columnPadding": 25, "rowPadding": 33, "padding": 24, "strokeColor": "black",
                    "labelExpr": "datum.value == 'S' ? 'y (Scenario 1)' : datum.value == 'A' ? 'Actuals' : datum.value == 'D' ? 'Deviation' : 'Percent deviation'"}}
              }
            }
          ],
          "resolve": {"scale": {"y": "independent"}}
        }
      ]
    }
  ]
}
